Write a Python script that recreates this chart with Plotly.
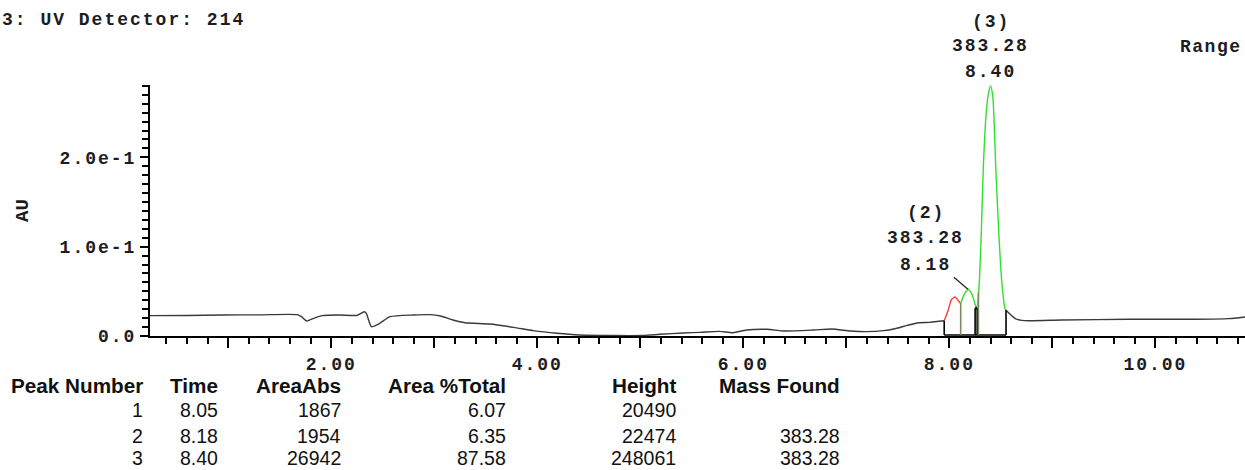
import numpy as np
import plotly.graph_objects as go

# ---------------- data ----------------
time_min = [0.24, 0.60, 0.95, 1.30, 1.67, 1.71, 1.76, 1.83, 1.91, 2.08, 2.25, 2.32, 2.34, 2.39,
            2.47, 2.57, 2.80, 2.96, 3.06, 3.18, 3.30, 3.54, 3.77, 3.96, 4.19, 4.41, 4.77, 5.03,
            5.19, 5.42, 5.58, 5.77, 5.90, 6.03, 6.23, 6.39, 6.68, 6.86, 7.04, 7.20, 7.36, 7.46,
            7.59, 7.70, 7.81, 7.95, 7.99, 8.02, 8.055, 8.09, 8.11, 8.14, 8.18, 8.22, 8.26, 8.27,
            8.29, 8.31, 8.33, 8.36, 8.38, 8.40, 8.42, 8.43, 8.45, 8.48, 8.51, 8.54, 8.55, 8.64,
            8.73, 9.09, 9.74, 10.39, 10.71, 10.87]
absorbance = [0.0228, 0.0230, 0.0235, 0.0237, 0.0239, 0.0216, 0.0168, 0.0198, 0.0228, 0.0235,
              0.0231, 0.0272, 0.0254, 0.0104, 0.0142, 0.0216, 0.0235, 0.0239, 0.0224, 0.0179,
              0.0149, 0.0134, 0.0097, 0.0060, 0.0030, 0.0011, 0.0005, 0.0006, 0.0019, 0.0034,
              0.0041, 0.0052, 0.0037, 0.0067, 0.0075, 0.0056, 0.0067, 0.0078, 0.0056, 0.0049,
              0.0060, 0.0078, 0.0119, 0.0149, 0.0153, 0.0170, 0.0295, 0.0407, 0.0437, 0.0392,
              0.0362, 0.0455, 0.0523, 0.0467, 0.0325, 0.0330, 0.0590, 0.1150, 0.1900, 0.2530,
              0.2720, 0.2800, 0.2700, 0.2530, 0.1900, 0.1150, 0.0590, 0.0310, 0.0287, 0.0194,
              0.0172, 0.0179, 0.0187, 0.0187, 0.0194, 0.0213]
assert len(time_min) == len(absorbance)

peak_number = [1, 2, 3]
peak_time = [8.05, 8.18, 8.40]
peak_area_abs = [1867, 1954, 26942]
peak_area_pct = [6.07, 6.35, 87.58]
peak_height = [20490, 22474, 248061]
peak_mass = ["", "383.28", "383.28"]
peak_start = [7.95, 8.11, 8.27]
peak_end = [8.11, 8.27, 8.55]

x_tick_vals = [1, 2, 3, 4, 5, 6, 7, 8, 9, 10]
x_tick_text = ["", "2.00", "", "4.00", "", "6.00", "", "8.00", "", "10.00"]
y_tick_vals = [0.0, 0.1, 0.2]
y_tick_text = ["0.0", "1.0e-1", "2.0e-1"]

title_text = "3: UV Detector: 214"
range_text = "Range"
y_title = "AU"
table_headers = ["Peak Number", "Time", "AreaAbs", "Area %Total", "Height", "Mass Found"]

# ---------------- layout constants ----------------
W, H = 1245, 470
L, R, T, B = 150, 0, 85, 134
PW, PH = W - L - R, H - T - B
MONO = "Liberation Mono, Courier New, monospace"
SANS = "Liberation Sans, Arial, sans-serif"
TXT = "#1c1c24"


def sp(text, s=2.0):
    return f'<span style="letter-spacing:{s}px">{text}</span>'


def px_x(px):
    return (px - L) / PW


def px_y(py):
    return (H - B - py) / PH


t = np.array(time_min)
a = np.array(absorbance)

fig = go.Figure()


def seg(lo, hi, color):
    m = (t >= lo - 1e-9) & (t <= hi + 1e-9)
    fig.add_trace(go.Scatter(x=t[m], y=a[m], mode="lines",
                             line=dict(color=color, width=1.4, shape="spline", smoothing=0.6),
                             hoverinfo="skip"))


seg(t.min(), peak_start[0], "#3a3a3a")
seg(peak_start[0], peak_end[0], "#ff3b3b")
seg(peak_start[1], peak_end[2], "#30e030")
seg(peak_end[2], t.max(), "#3a3a3a")

# integration baseline and drop lines
base_y = 0.0012
fig.add_trace(go.Scatter(x=[peak_start[0], peak_end[2]], y=[base_y, base_y], mode="lines",
                         line=dict(color="#000", width=1.4), hoverinfo="skip"))
drops = [(peak_start[0], "#000"), (peak_end[0], "#7b8a60"), (peak_end[1] - 0.02, "#000"),
         (peak_end[1], "#000"), (peak_end[1] + 0.012, "#7b8a60"), (peak_end[2], "#000")]
for xv, col in drops:
    yv = float(np.interp(xv, t, a))
    if col == "#000" and abs(xv - peak_end[1]) < 0.03:
        yv = 0.031
    fig.add_trace(go.Scatter(x=[xv, xv], y=[base_y, yv], mode="lines",
                             line=dict(color=col, width=1.6), hoverinfo="skip"))
fig.add_trace(go.Scatter(x=[peak_end[1] - 0.02, peak_end[1]], y=[0.031, 0.031], mode="lines",
                         line=dict(color="#000", width=2.5), hoverinfo="skip"))

# leader line for peak 2
p2_top = float(np.interp(peak_time[1], t, a))
fig.add_shape(type="line", xref="x", yref="y", xsizemode="pixel", ysizemode="pixel",
              xanchor=peak_time[1], yanchor=p2_top, x0=-14, x1=0, y0=12, y1=0,
              line=dict(color="#222", width=1.2))

MONO_FONT = dict(family=MONO, size=18, color=TXT, weight="bold")

annotations = []
# peak labels
label_xshift = {2: -42, 3: 0}
label_yshift = {2: [76, 51, 24], 3: [64, 40, 14]}
for n, rt, mass in zip(peak_number, peak_time, peak_mass):
    if not mass:
        continue
    top = float(np.interp(rt, t, a))
    for txt, ys in zip([f"({n})", mass, f"{rt:.2f}"], label_yshift[n]):
        annotations.append(dict(x=rt, y=top, xref="x", yref="y", text=sp(txt), showarrow=False,
                                xanchor="center", yanchor="middle", xshift=label_xshift[n],
                                yshift=ys, font=MONO_FONT))

# title, range, axis title
annotations.append(dict(x=px_x(0), y=px_y(20), xref="paper", yref="paper", text=sp(title_text),
                        showarrow=False, xanchor="left", yanchor="middle", font=MONO_FONT))
annotations.append(dict(x=px_x(1244), y=px_y(47), xref="paper", yref="paper", text=sp(range_text, 1.5),
                        showarrow=False, xanchor="right", yanchor="middle", font=MONO_FONT))
annotations.append(dict(x=px_x(23), y=px_y(211), xref="paper", yref="paper", text=f"<b>{y_title}</b>",
                        showarrow=False, xanchor="center", yanchor="middle", textangle=-90,
                        font=dict(family=MONO, size=19, color=TXT)))

# table
col_right = [145, 220, 343, 508, 678, 842]
row_y = [385, 410, 436, 458]
for h, xr in zip(table_headers, col_right):
    annotations.append(dict(x=px_x(xr), y=px_y(row_y[0]), xref="paper", yref="paper",
                            text=f"<b>{h}</b>", showarrow=False, xanchor="right", yanchor="middle",
                            font=dict(family=SANS, size=20.7, color="#111")))
for i in range(len(peak_number)):
    vals = [str(peak_number[i]), f"{peak_time[i]:.2f}", str(peak_area_abs[i]),
            f"{peak_area_pct[i]:.2f}", str(peak_height[i]), peak_mass[i]]
    for v, xr in zip(vals, col_right):
        if not v:
            continue
        annotations.append(dict(x=px_x(xr), y=px_y(row_y[i + 1]), xref="paper", yref="paper",
                                text=v, showarrow=False, xanchor="right", yanchor="middle",
                                font=dict(family=SANS, size=19.5, color="#111")))

fig.update_layout(
    width=W, height=H, margin=dict(l=L, r=R, t=T, b=B, pad=0),
    plot_bgcolor="white", paper_bgcolor="white", showlegend=False,
    annotations=annotations,
    xaxis=dict(range=[0.24, 10.87], showgrid=False, zeroline=False, showline=True,
               linecolor="#000", linewidth=2, ticks="outside", ticklen=10, tickwidth=1.5,
               tickcolor="#000", tickvals=x_tick_vals, ticktext=[sp(s) for s in x_tick_text],
               tickfont=MONO_FONT,
               minor=dict(dtick=0.2, tick0=0, ticks="outside", ticklen=6, tickwidth=1.5,
                          tickcolor="#000")),
    yaxis=dict(range=[0, 0.281], showgrid=False, zeroline=False, showline=True,
               linecolor="#000", linewidth=2, ticks="outside", ticklen=8, tickwidth=1.5,
               tickcolor="#000", tickvals=y_tick_vals, ticktext=[sp(s) for s in y_tick_text],
               tickfont=MONO_FONT,
               minor=dict(dtick=0.01, tick0=0, ticks="outside", ticklen=6, tickwidth=1.5,
                          tickcolor="#000")),
)

fig.write_html("out.html", config={"displayModeBar": False},
               post_script="document.body.style.margin='0';")
